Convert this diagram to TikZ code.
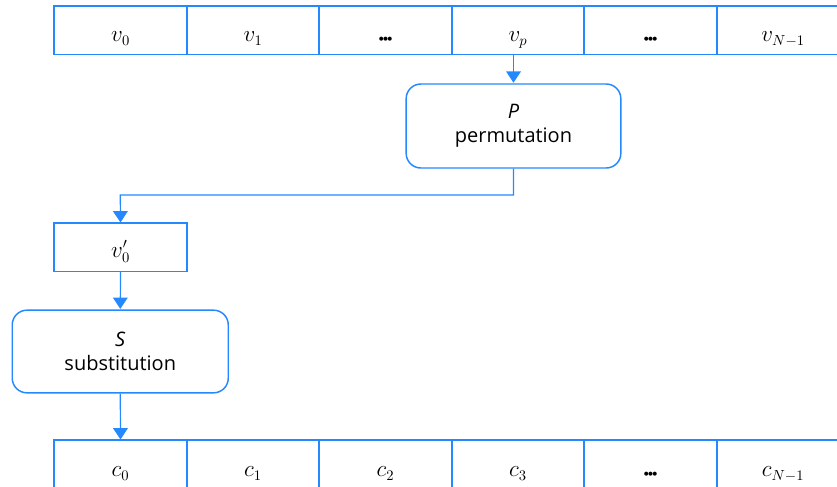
\documentclass[tikz,border=0pt]{standalone}
\usepackage{fontspec}
\setmainfont{Open Sans}
\usetikzlibrary{arrows.meta}
\definecolor{flowblue}{RGB}{36,136,255}

\tikzset{
  slot/.style={rectangle, inner sep=0pt, minimum width=99.4pt, anchor=north west,
    font=\fontsize{16}{19}\selectfont},
  rim/.style={draw=flowblue, line width=1.1pt},
  opbox/.style={draw=flowblue, line width=1.1pt, rectangle,
    rounded corners=11pt, inner sep=0pt, align=center,
    font=\fontsize{15}{18}\selectfont},
  flow/.style={draw=flowblue, line width=0.9pt,
    -{Triangle[width=11pt,length=8.5pt]}, shorten >=0.4pt}
}
\newcommand{\dotsbox}{{\scriptsize$\bullet\!\!\bullet\!\!\bullet$}}

\begin{document}
\begin{tikzpicture}[x=0.75pt, y=-0.75pt]
    \useasboundingbox (0,0) rectangle (837,486);
    % input block
    \foreach \lab [count=\i from 0] in {{$v_0$},{$v_1$},\dotsbox,{$v_p$},\dotsbox,{$v_{N-1}$}}
      \node (v\i) [slot, minimum height=36pt, text height=17pt, text depth=0pt]
        at (54+132.5*\i,6) {\lab};
    % output block
    \foreach \lab [count=\i from 0] in {{$c_0$},{$c_1$},{$c_2$},{$c_3$},\dotsbox,{$c_{N-1}$}}
      \node (c\i) [slot, minimum height=40.5pt, text height=14pt, text depth=0pt]
        at (54+132.5*\i,440) {\lab};
    \node (vq) [slot, minimum height=36pt, text height=15pt, text depth=0pt]
      at (54,223) {$v_0^{\prime}$};
    \foreach \n in {v0,v1,v2,v3,v4,v5,c0,c1,c2,c3,c4,c5,vq}
      \draw[rim] (\n.north west) rectangle (\n.south east);
    \node (P) [opbox, minimum width=161pt, minimum height=63pt] at (513.5,126)
      {\textit{P}\\permutation};
    \node (S) [opbox, minimum width=162pt, minimum height=62pt] at (120.25,351.5)
      {\textit{S}\\substitution};
    \coordinate (turn) at (120.25,195);
    \draw[flow] (P.north |- v3.south) -- (P.north);
    \draw[flow] (P.south) |- (turn) -- (vq.north);
    \draw[flow] (vq.south) -- (S.north);
    \draw[flow] (S.south) -- (c0.north);
  \end{tikzpicture}
\end{document}
